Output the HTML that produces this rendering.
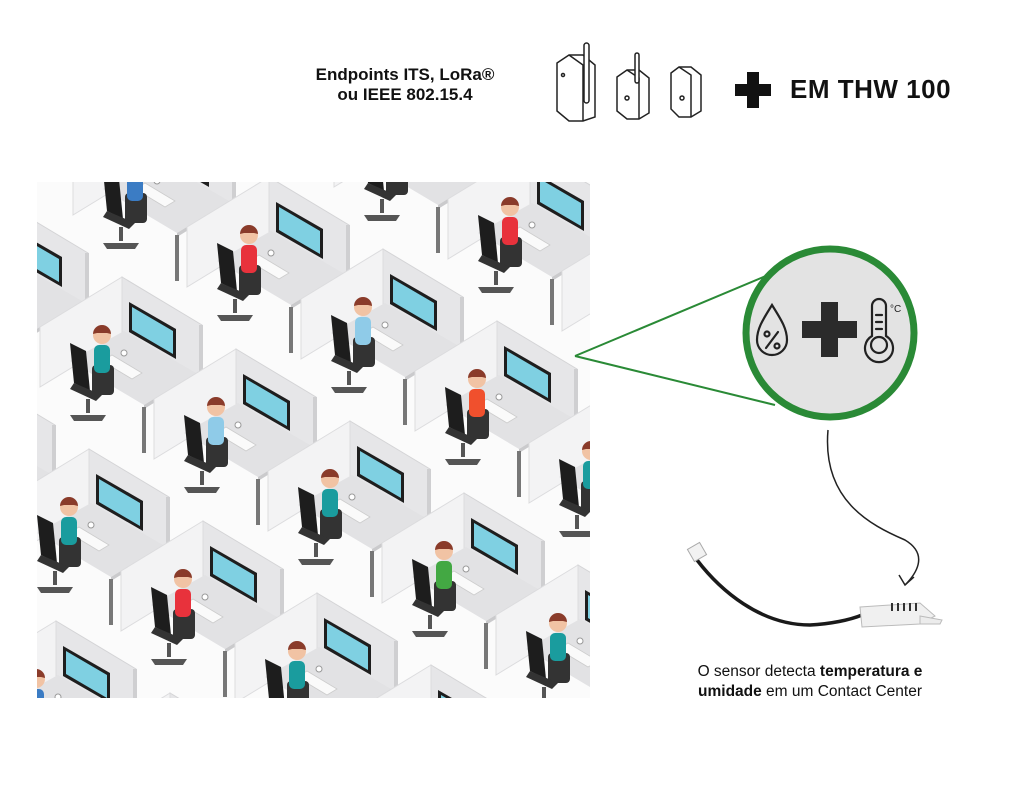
<!DOCTYPE html>
<html><head><meta charset="utf-8"><style>
html,body{margin:0;padding:0;background:#fff;width:1024px;height:793px;overflow:hidden}
body{position:relative;font-family:"Liberation Sans",sans-serif}
svg{display:block}
</style></head><body>
<svg width="1024" height="793" viewBox="0 0 1024 793" xmlns="http://www.w3.org/2000/svg" style="position:absolute;left:0;top:0">
<defs>
<clipPath id="cp"><rect x="37" y="182" width="553" height="516"/></clipPath>
<g id="ws">
  <polygon points="-30,-48 50,0 50,60 -30,12" fill="#e6e6e8" stroke="#d4d4d6" stroke-width="1"/>
  <polygon points="-30,-48 -112,2 -112,62 -30,12" fill="#f3f3f4" stroke="#dcdcde" stroke-width="1"/>
  <rect x="47" y="0" width="4" height="62" fill="#cfcfd1"/>
  <polygon points="-28,6 44,48 -8,80 -82,36" fill="#e2e2e4"/>
  <polygon points="-8,80 44,48 44,52 -8,84" fill="#cacacc"/>
  <rect x="-10" y="82" width="4" height="46" fill="#777"/>
  <rect x="38" y="52" width="4" height="40" fill="#777"/>
  <polygon points="-23,-23 24,4 24,34 -23,7" fill="#1e1e1e"/>
  <polygon points="-20,-18 21,6 21,29 -20,5" fill="#7fd0e2"/>
  <polygon points="-40,30 -10,48 -20,54 -50,36" fill="#fafafa" stroke="#ccc" stroke-width="0.8"/>
  <rect x="-60" y="40" width="22" height="30" rx="4" fill="#333"/>
  <rect x="-58" y="20" width="16" height="28" rx="5" fill="currentColor"/>
  <circle cx="-50" cy="10" r="9" fill="#f1c3a4"/>
  <path d="M-59,9 a9,9 0 0 1 18,0 l-4,-1 -10,0z" fill="#8a3b2a"/>
  <polygon points="-82,18 -66,26 -62,66 -78,58" fill="#1d1d1d"/>
  <polygon points="-78,58 -50,70 -56,76 -82,64" fill="#333"/>
  <rect x="-66" y="74" width="4" height="14" fill="#555"/>
  <polygon points="-82,90 -46,90 -50,96 -78,96" fill="#555"/>
  <circle cx="-28" cy="28" r="3" fill="#fff" stroke="#999" stroke-width="1"/>
</g>
</defs>
<g clip-path="url(#cp)">
  <rect x="37" y="182" width="553" height="516" fill="#fbfbfb"/>
  <use href="#ws" x="332" y="53" style="color:#3b7cc4"/>
  <use href="#ws" x="446" y="125" style="color:#2f9aa3"/>
  <use href="#ws" x="185" y="153" style="color:#3b7cc4"/>
  <use href="#ws" x="-76" y="181" style="color:#e8323c"/>
  <use href="#ws" x="560" y="197" style="color:#e8323c"/>
  <use href="#ws" x="299" y="225" style="color:#e8323c"/>
  <use href="#ws" x="38" y="253" style="color:#2f9aa3"/>
  <use href="#ws" x="674" y="269" style="color:#2f9aa3"/>
  <use href="#ws" x="413" y="297" style="color:#8fcbe8"/>
  <use href="#ws" x="152" y="325" style="color:#1a9c9e"/>
  <use href="#ws" x="-109" y="353" style="color:#e8323c"/>
  <use href="#ws" x="527" y="369" style="color:#f0502d"/>
  <use href="#ws" x="266" y="397" style="color:#8fcbe8"/>
  <use href="#ws" x="5" y="425" style="color:#2f9aa3"/>
  <use href="#ws" x="641" y="441" style="color:#1a9c9e"/>
  <use href="#ws" x="380" y="469" style="color:#1a9c9e"/>
  <use href="#ws" x="119" y="497" style="color:#1a9c9e"/>
  <use href="#ws" x="494" y="541" style="color:#43a843"/>
  <use href="#ws" x="233" y="569" style="color:#e8323c"/>
  <use href="#ws" x="-28" y="597" style="color:#2f9aa3"/>
  <use href="#ws" x="608" y="613" style="color:#1a9c9e"/>
  <use href="#ws" x="347" y="641" style="color:#1a9c9e"/>
  <use href="#ws" x="86" y="669" style="color:#3b7cc4"/>
  <use href="#ws" x="461" y="713" style="color:#e8323c"/>
  <use href="#ws" x="200" y="741" style="color:#e8323c"/>
</g>
<line x1="575" y1="356" x2="785" y2="268" stroke="#2a8a36" stroke-width="2"/>
<line x1="575" y1="356" x2="775" y2="405" stroke="#2a8a36" stroke-width="2"/>
<circle cx="830" cy="333" r="84" fill="#e3e3e3" stroke="#2a8a36" stroke-width="7"/>
<g fill="none" stroke="#222" stroke-width="2.2" stroke-linecap="round">
  <path d="M772,305 C764,318 757,328 757,340 a15,15 0 0 0 30,0 C787,328 780,318 772,305z"/>
  <circle cx="767" cy="334" r="2.5"/><circle cx="777" cy="346" r="2.5"/><line x1="778" y1="332" x2="766" y2="348"/>
  <path d="M872,306 a7,7 0 0 1 14,0 v30 a14,14 0 1 1 -14,0z"/>
  <circle cx="879" cy="345" r="8"/>
  <line x1="876" y1="315" x2="882" y2="315"/><line x1="876" y1="322" x2="882" y2="322"/><line x1="876" y1="329" x2="882" y2="329"/>
</g>
<text x="890" y="312" font-size="10" fill="#222">°C</text>
<rect x="802" y="321" width="55" height="17" fill="#2b2b2b"/>
<rect x="821" y="302" width="17" height="55" fill="#2b2b2b"/>
<path d="M828,430 C822,500 870,525 905,540 C930,555 915,575 905,585" fill="none" stroke="#222" stroke-width="1.5"/>
<path d="M899,575 L905,585 L914,577" fill="none" stroke="#222" stroke-width="1.5"/>
<path d="M697,560 C720,590 760,625 810,625 C830,624 850,620 862,615" fill="none" stroke="#1a1a1a" stroke-width="3.5"/>
<rect x="690" y="545" width="14" height="14" fill="#f2f2f2" stroke="#aaa" transform="rotate(-30 697 552)"/>
<polygon points="860,607 920,603 935,616 920,624 862,627" fill="#f0f0f0" stroke="#bbb"/>
<polygon points="920,616 942,620 940,624 920,624" fill="#ececec" stroke="#bbb"/>
<g fill="#333"><rect x="891" y="603" width="2" height="8"/><rect x="897" y="603" width="2" height="8"/><rect x="903" y="603" width="2" height="8"/><rect x="909" y="603" width="2" height="8"/><rect x="915" y="603" width="2" height="8"/></g>
<g fill="#fff" stroke="#222" stroke-width="1.5">
  <path d="M557,63 l12,-8 h14 l12,10 v52 l-12,4 h-14 l-12,-10z"/>
  <path d="M569,55 l14,10 v56"/>
  <rect x="584" y="43" width="5" height="60" rx="2.5"/>
  <path d="M617,77 l10,-7 h12 l10,8 v35 l-10,6 h-12 l-10,-8z"/>
  <path d="M627,70 l12,8 v41"/>
  <rect x="635" y="53" width="4" height="30" rx="2"/>
  <path d="M671,73 l8,-6 h12 l10,8 v36 l-10,6 h-12 l-8,-8z"/>
  <path d="M679,67 l12,8 v42"/>
  <circle cx="563" cy="75" r="1.5"/><circle cx="627" cy="98" r="2"/><circle cx="682" cy="98" r="2"/>
</g>
<rect x="735" y="84" width="36" height="12" fill="#111"/>
<rect x="747" y="72" width="12" height="36" fill="#111"/>
<text x="790" y="98" font-size="26" font-weight="bold" fill="#111" letter-spacing="0.5">EM THW 100</text>
<text x="405" y="80" font-size="17" font-weight="bold" fill="#111" text-anchor="middle">Endpoints ITS, LoRa®</text>
<text x="405" y="100" font-size="17" font-weight="bold" fill="#111" text-anchor="middle">ou IEEE 802.15.4</text>
<text x="810" y="676" font-size="15.5" fill="#111" text-anchor="middle">O sensor detecta <tspan font-weight="bold">temperatura e</tspan></text>
<text x="810" y="696" font-size="15.5" fill="#111" text-anchor="middle"><tspan font-weight="bold">umidade</tspan> em um Contact Center</text>
</svg>
</body></html>
